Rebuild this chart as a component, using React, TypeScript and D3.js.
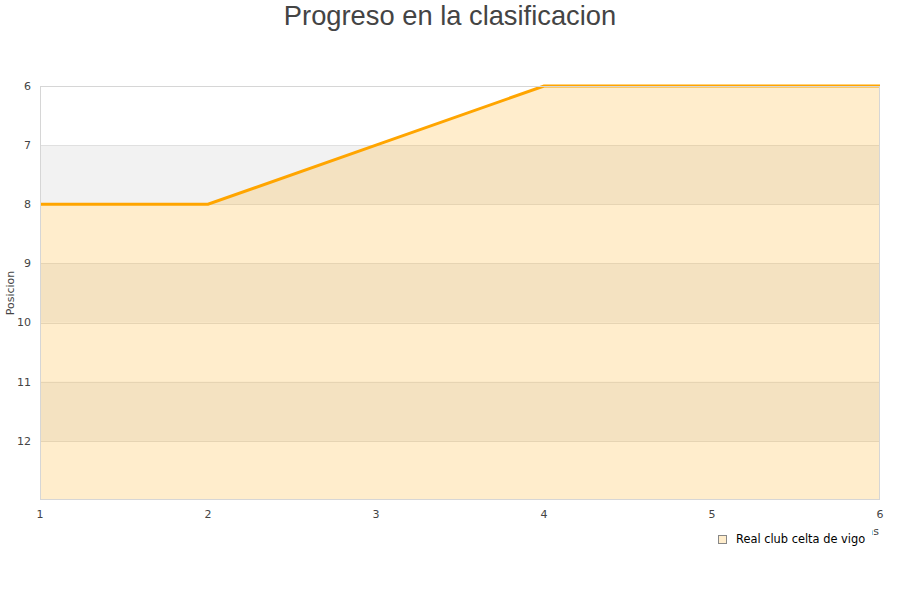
import React, { useEffect, useRef } from "react";
import * as d3 from "d3";

// Jornadas (x) and position in the table (y, reversed)
const jornadas = [1, 2, 3, 4, 5, 6];
const posiciones = [8, 8, 7, 6, 6, 6];
const yTicks = [6, 7, 8, 9, 10, 11, 12];
const shadedBands = [
  [7, 8],
  [9, 10],
  [11, 12],
];
const seriesName = "Real club celta de vigo";

const W = 900;
const H = 600;
const margin = { top: 86, right: 20, bottom: 100, left: 40 };

const App: React.FC = () => {
  const svgRef = useRef<SVGSVGElement>(null);

  useEffect(() => {
    if (!svgRef.current) return;
    const svg = d3.select(svgRef.current);
    svg.selectAll("*").remove();

    const x = d3
      .scaleLinear()
      .domain([1, 6])
      .range([margin.left, W - margin.right]);
    const y = d3
      .scaleLinear()
      .domain([6, 13])
      .range([margin.top, H - margin.bottom]);

    const tickFont = "DejaVu Sans, sans-serif";

    // Title
    svg
      .append("text")
      .attr("x", W / 2)
      .attr("y", 25)
      .attr("text-anchor", "middle")
      .attr("font-family", "Liberation Sans, Arial, sans-serif")
      .attr("font-size", 27.3)
      .attr("fill", "#444")
      .text("Progreso en la clasificacion");

    // Alternating bands
    svg
      .append("g")
      .selectAll("rect")
      .data(shadedBands)
      .join("rect")
      .attr("x", x(1))
      .attr("width", x(6) - x(1))
      .attr("y", (d) => y(d[0]))
      .attr("height", (d) => y(d[1]) - y(d[0]))
      .attr("fill", "#f2f2f2");

    // Grid lines
    svg
      .append("g")
      .selectAll("line")
      .data(yTicks.slice(1))
      .join("line")
      .attr("x1", x(1))
      .attr("x2", x(6))
      .attr("y1", (d) => Math.round(y(d)) + 0.5)
      .attr("y2", (d) => Math.round(y(d)) + 0.5)
      .attr("stroke", "#e0e0e0")
      .attr("stroke-width", 1);

    const pts = jornadas.map((j, i) => [j, posiciones[i]] as [number, number]);

    // Area
    const area = d3
      .area<[number, number]>()
      .x((d) => x(d[0]))
      .y0(y(13))
      .y1((d) => y(d[1]));
    svg
      .append("path")
      .datum(pts)
      .attr("d", area)
      .attr("fill", "#ffa500")
      .attr("fill-opacity", 0.2);

    // Line
    const line = d3
      .line<[number, number]>()
      .x((d) => x(d[0]))
      .y((d) => y(d[1]));
    svg
      .append("path")
      .datum(pts)
      .attr("d", line)
      .attr("fill", "none")
      .attr("stroke", "#ffa500")
      .attr("stroke-width", 3);

    // Plot border
    svg
      .append("rect")
      .attr("x", x(1) + 0.5)
      .attr("y", y(6) + 0.5)
      .attr("width", x(6) - x(1) - 1)
      .attr("height", y(13) - y(6) - 1)
      .attr("fill", "none")
      .attr("stroke", "#d6d6d6")
      .attr("stroke-width", 1);

    // Y tick labels
    svg
      .append("g")
      .selectAll("text")
      .data(yTicks)
      .join("text")
      .attr("x", 31)
      .attr("y", (d) => y(d))
      .attr("dy", "0.35em")
      .attr("text-anchor", "end")
      .attr("font-family", tickFont)
      .attr("font-size", 11)
      .attr("fill", "#444")
      .text((d) => d);

    // X tick labels
    svg
      .append("g")
      .selectAll("text")
      .data(jornadas)
      .join("text")
      .attr("x", (d) => x(d))
      .attr("y", 518)
      .attr("text-anchor", "middle")
      .attr("font-family", tickFont)
      .attr("font-size", 11)
      .attr("fill", "#444")
      .text((d) => d);

    // Axis titles
    svg
      .append("text")
      .attr("transform", `translate(14,${(y(6) + y(13)) / 2}) rotate(-90)`)
      .attr("text-anchor", "middle")
      .attr("font-family", tickFont)
      .attr("font-size", 11)
      .attr("fill", "#444")
      .text("Posicion");

    svg
      .append("text")
      .attr("x", 879)
      .attr("y", 535)
      .attr("text-anchor", "end")
      .attr("font-family", tickFont)
      .attr("font-size", 11)
      .attr("fill", "#444")
      .text("Jornadas");

    // Legend (white box hides most of the x title)
    const lg = svg.append("g");
    lg.append("rect")
      .attr("x", 706)
      .attr("y", 527)
      .attr("width", 166)
      .attr("height", 24)
      .attr("fill", "#fff");
    lg.append("rect")
      .attr("x", 718.5)
      .attr("y", 535.5)
      .attr("width", 8)
      .attr("height", 8)
      .attr("fill", "#ffedcc")
      .attr("stroke", "#888")
      .attr("stroke-width", 1);
    lg.append("text")
      .attr("x", 736)
      .attr("y", 543)
      .attr("font-family", tickFont)
      .attr("font-size", 11.4)
      .attr("fill", "#000")
      .text(seriesName);
  }, []);

  return (
    <div style={{ position: "absolute", left: 0, top: 0, width: W, height: H }}>
      <svg ref={svgRef} width={W} height={H} style={{ display: "block" }} />
    </div>
  );
};

export default App;
